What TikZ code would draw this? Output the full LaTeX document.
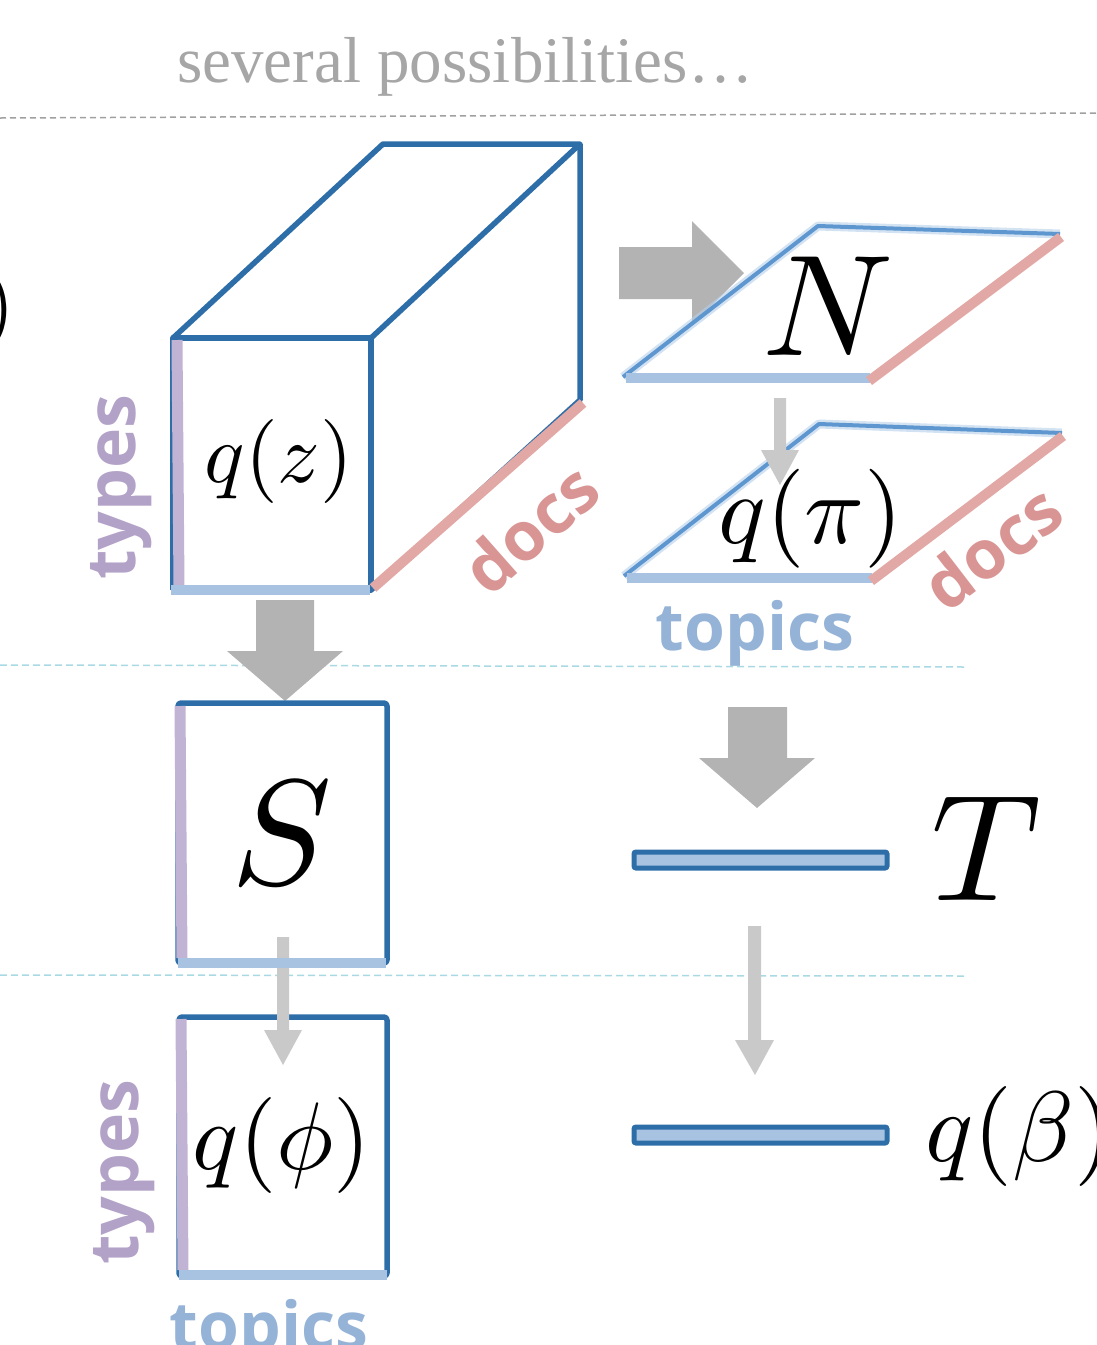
\documentclass[tikz,border=0pt]{standalone}
\usepackage{graphicx}
\usepackage[no-math]{fontspec}
\newfontfamily\labfont{Open Sans}
\newfontfamily\topfont{Liberation Serif}
\newcommand{\smath}[2]{\scalebox{#1}{\fontsize{10}{12}\selectfont$#2$}}
\definecolor{boxblue}{HTML}{2E6EA8}
\definecolor{planeblue}{HTML}{5E97D0}
\definecolor{edgeblue}{HTML}{A7C3E1}
\definecolor{edgepurple}{HTML}{C1B3D4}
\definecolor{textpurple}{HTML}{B3A2C7}
\definecolor{edgepink}{HTML}{E2A8A5}
\definecolor{textpink}{HTML}{D99594}
\definecolor{textblue}{HTML}{95B3D7}
\definecolor{biggray}{HTML}{B3B3B3}
\definecolor{smallgray}{HTML}{C9C9C9}
\definecolor{cyandash}{HTML}{A9D9E3}
\definecolor{graydash}{HTML}{A0A0A0}
\definecolor{toptext}{HTML}{A6A6A6}
\tikzset{
  boxline/.style={draw=boxblue, line width=5.5pt, line join=round},
  purpleedge/.style={draw=edgepurple, line width=11pt},
  blueedge/.style={draw=edgeblue, line width=10pt},
  pinkedge/.style={draw=edgepink, line width=10pt},
  planeedge/.style={draw=planeblue, line width=4pt, line join=round},
  planeglow/.style={draw=planeblue!45, line width=9pt, line join=round, opacity=0.6},
  bigarrow/.style={fill=biggray},
  smallarrow/.style={fill=smallgray},
  mathlbl/.style={inner sep=0pt, text=black},
  axislbl/.style={inner sep=0pt, font=\labfont\bfseries\fontsize{68}{74}\selectfont},
  toplbl/.style={inner sep=0pt, font=\labfont\bfseries\fontsize{66}{72}\selectfont},
  barbox/.style={fill=edgeblue, draw=boxblue, line width=5pt, rounded corners=2pt},
}
\begin{document}
\begin{tikzpicture}[x=1pt,y=-1pt]
\useasboundingbox (0,0) rectangle (1096,1345);
% title
\node[inner sep=0pt, anchor=base, text=toptext, font=\topfont\fontsize{65}{70}\selectfont] (title) at (465,82) {several possibilities…};
% separators
\draw[graydash, line width=1.5pt, dash pattern=on 6pt off 4pt] (0,118) -- (1096,113);
\draw[cyandash, line width=1.5pt, dash pattern=on 7pt off 4pt] (0,665) -- (967,667);
\draw[cyandash, line width=1.5pt, dash pattern=on 7pt off 4pt] (0,975) -- (967,976);
% left cut-off paren
\node[mathlbl, anchor=base east] (lparen) at (15,331) {\smath{8.4}{)}};

% ---- cube q(z)
\coordinate (ftl) at (173,338);
\coordinate (ftr) at (371,338);
\coordinate (fbr) at (371,590);
\coordinate (fbl) at (173,590);
\coordinate (btl) at (383,144);
\coordinate (btr) at (580,144);
\coordinate (bbr) at (580,400);
\draw[boxline] (fbl) -- (ftl) -- (ftr) -- (fbr) -- (fbl);
\draw[boxline] (ftl) -- (btl) -- (btr) -- (ftr);
\draw[boxline] (btr) -- (bbr) -- (fbr);
\draw[purpleedge] (177,340) -- (179,586);
\draw[blueedge] (171,590) -- (370,590);
\draw[pinkedge] (373,588) -- (583,403);
\node[mathlbl, anchor=base] (qz) at (279,482) {\smath{8.4}{q(z)}};
\node[axislbl, text=textpurple, rotate=90] (types1) at (121,487) {types};
\node[axislbl, text=textpink, rotate=41.5] (docs1) at (530,528) {docs};

% ---- big arrow right
\fill[bigarrow] (619,247) -- (692,247) -- (692,221) -- (744,273) -- (692,325) -- (692,299) -- (619,299) -- cycle;

% ---- plane N
\coordinate (p1bl) at (623,377);
\coordinate (p1br) at (870,378);
\coordinate (p1tr) at (1060,234);
\coordinate (p1tl) at (818,226);
\fill[white] (p1bl) -- (p1tl) -- (p1tr) -- (p1br) -- cycle;
\draw[planeglow] (p1bl) -- (p1tl) -- (p1tr);
\draw[planeedge] (p1bl) -- (p1tl) -- (p1tr);
\draw[blueedge] (626,378) -- (870,378);
\draw[pinkedge] (869,381) -- (1061,237);
\node[mathlbl, anchor=base] (N) at (828,355) {\smath{14.4}{N}};

% ---- plane q(pi)
\coordinate (p2bl) at (624,576);
\coordinate (p2br) at (872,578);
\coordinate (p2tr) at (1062,433);
\coordinate (p2tl) at (819,424);
\fill[white] (p2bl) -- (p2tl) -- (p2tr) -- (p2br) -- cycle;
\draw[planeglow] (p2bl) -- (p2tl) -- (p2tr);
\draw[planeedge] (p2bl) -- (p2tl) -- (p2tr);
\draw[blueedge] (627,578) -- (872,578);
\draw[pinkedge] (871,581) -- (1063,436);
\node[mathlbl, anchor=base] (qpi) at (811,543) {\smath{9.9}{q(\pi)}};
\node[axislbl, text=textpink, rotate=37.5] (docs2) at (992,547) {docs};
\node[toplbl, text=textblue] (topics1) at (755,633) {topics};
% small arrow N -> q(pi)
\fill[smallarrow] (774,398) -- (786,398) -- (786,450) -- (799,450) -- (780,485) -- (761,450) -- (774,450) -- cycle;

% ---- big arrow down left
\fill[bigarrow] (256,600) -- (314,600) -- (314,651) -- (343,651) -- (285,701) -- (227,651) -- (256,651) -- cycle;

% ---- S box
\draw[boxline, rounded corners=3pt] (178,703) rectangle (387,963);
\draw[purpleedge] (180,706) -- (182,958);
\node[mathlbl, anchor=base] (S) at (282,884) {\smath{15}{S}};

% ---- q(phi) box
\draw[boxline, rounded corners=3pt] (179,1017) rectangle (387,1276);
\draw[purpleedge] (181,1019) -- (183,1270);
\draw[blueedge] (179,1275) -- (387,1275);
\node[mathlbl, anchor=base] (qphi) at (282,1169) {\smath{9.6}{q(\phi)}};
\node[axislbl, text=textpurple, rotate=90] (types2) at (124,1172) {types};
\node[toplbl, text=textblue] (topics2) at (269,1332) {topics};

% ---- small arrow S -> q(phi)
\fill[smallarrow] (277,937) -- (289,937) -- (289,1030) -- (302,1030) -- (283,1065) -- (264,1030) -- (277,1030) -- cycle;
\draw[blueedge] (178,963) -- (386,963);

% ---- right column: T
\fill[bigarrow] (728,707) -- (787,707) -- (787,758) -- (815,758) -- (757,808) -- (699,758) -- (728,758) -- cycle;
\draw[barbox] (634,852) rectangle (887,868);
\node[mathlbl, anchor=base] (T) at (986,900) {\smath{15.2}{T}};
\fill[smallarrow] (748,926) -- (761,926) -- (761,1040) -- (774,1040) -- (755,1075) -- (735,1040) -- (748,1040) -- cycle;
\draw[barbox] (634,1127) rectangle (887,1143);
\node[mathlbl, anchor=base west] (qbeta) at (925,1161) {\smath{10}{q(\beta)}};
\end{tikzpicture}
\end{document}
